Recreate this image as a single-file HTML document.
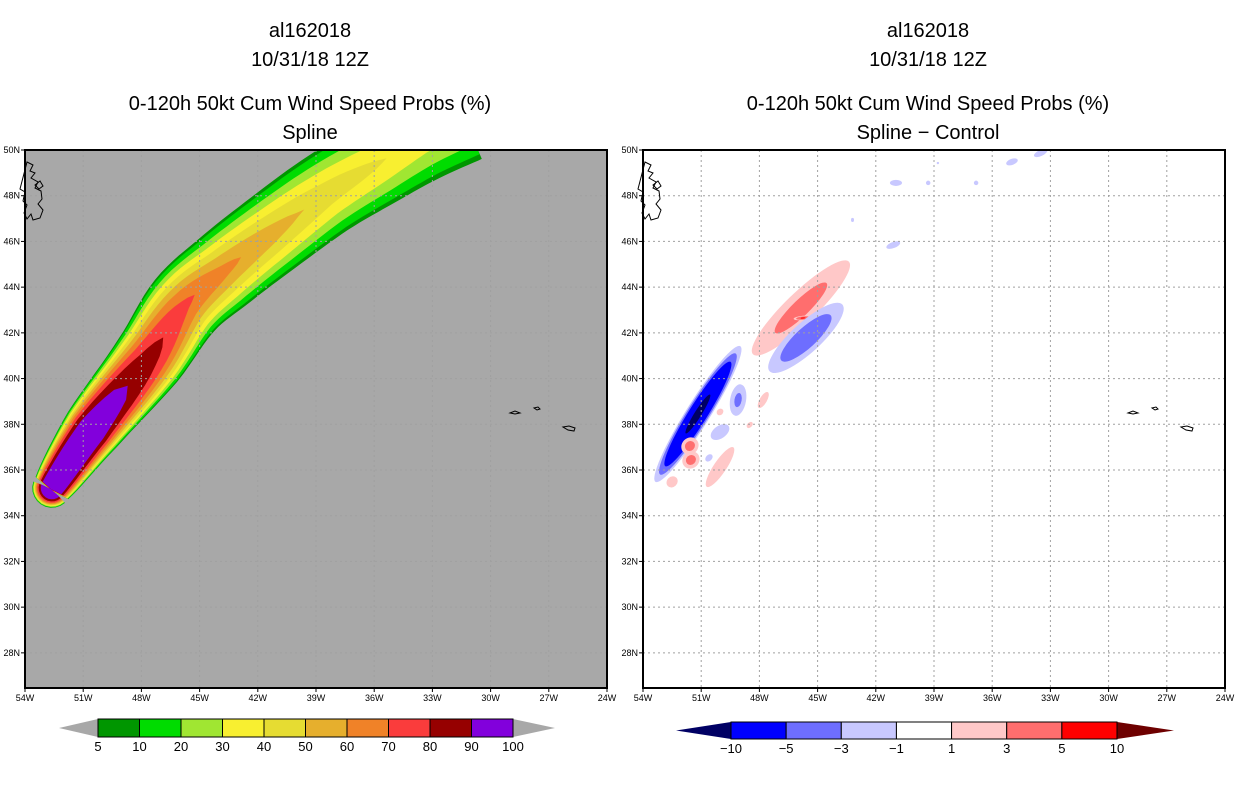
<!DOCTYPE html>
<html><head><meta charset="utf-8">
<style>
body{margin:0;background:#fff;}
svg{display:block;font-family:"Liberation Sans",sans-serif;}
.t{font-size:20px;text-anchor:middle;fill:#000;}
.ax{font-size:9px;fill:#000;}
.cb{font-size:13px;text-anchor:middle;fill:#000;}
</style></head>
<body>
<svg id="s" width="1236" height="800" viewBox="0 0 1236 800">
<defs>
<clipPath id="cl"><rect x="25" y="150" width="582" height="538"/></clipPath>
<clipPath id="cr"><rect x="643" y="150" width="582" height="538"/></clipPath>
</defs>
<g>
<text class="t" x="310" y="37">al162018</text>
<text class="t" x="310" y="66">10/31/18 12Z</text>
<text class="t" x="310" y="110">0-120h 50kt Cum Wind Speed Probs (%)</text>
<text class="t" x="310" y="139">Spline</text>
</g>
<g>
<text class="t" x="928" y="37">al162018</text>
<text class="t" x="928" y="66">10/31/18 12Z</text>
<text class="t" x="928" y="110">0-120h 50kt Cum Wind Speed Probs (%)</text>
<text class="t" x="928" y="139">Spline − Control</text>
</g>
<rect x="25" y="150" width="582" height="538" fill="#a8a8a8"/>
<rect x="643" y="150" width="582" height="538" fill="#fff"/>
<g id="swath" clip-path="url(#cl)"></g>
<g id="diff" clip-path="url(#cr)"></g>
<g id="grid"></g>
<g fill="none" stroke="#000" stroke-width="1">
<path d="M27,162 l6,3 -3,6 5,2 -4,5 7,4 -3,6 6,3 1,8 -4,5 5,6 -3,8 -7,2 -2,-6 -4,5 -3,-6 3,-8 -4,-4 2,-9 -5,-3 z"/>
<path d="M35,185 l5,-4 3,5 -4,3 z"/>
<path d="M645,162 l6,3 -3,6 5,2 -4,5 7,4 -3,6 6,3 1,8 -4,5 5,6 -3,8 -7,2 -2,-6 -4,5 -3,-6 3,-8 -4,-4 2,-9 -5,-3 z"/>
<path d="M653,185 l5,-4 3,5 -4,3 z"/>
<path d="M510,413 l5,-2 5,2 -5,1 z M534,408 l4,-1 2,2 -3,1 z M563,427 l6,-1 6,2 -1,3 -6,-1 z"/>
<path d="M1128,413 l5,-2 5,2 -5,1 z M1152,408 l4,-1 2,2 -3,1 z M1181,427 l6,-1 6,2 -1,3 -6,-1 z"/>
</g>
<rect x="25" y="150" width="582" height="538" fill="none" stroke="#000" stroke-width="2"/>
<rect x="643" y="150" width="582" height="538" fill="none" stroke="#000" stroke-width="2"/>
<g id="axes"></g>
<g id="cbL"></g>
<g id="cbR"></g>
</svg>
<script>
// ---- Left panel data: storm swath centreline and probability profile ----
const trackLon = [-52.61, -50.55, -47.66, -45.75, -43.69, -41.37, -38.54, -35.96, -33.64, -31.32];
const trackLat = [35.21, 37.75, 40.81, 43.22, 44.75, 46.28, 48.03, 49.34, 50.44, 51.31];
const trackPeak = [100, 100, 84, 72, 63, 55, 46, 41, 36, 33];
const trackWidthDeg = [0.95, 1.45, 1.78, 1.95, 2.05, 2.1, 2.15, 2.2, 2.25, 2.25];
const trackShape = [4, 3, 2.2, 1.7, 1.5, 1.5, 1.5, 1.5, 1.5, 1.5];
const probLevels = [5, 10, 20, 30, 40, 50, 60, 70, 80, 90];
const probColors = ["#009600","#00dc00","#a0e632","#f8ef30","#e6dc32","#e6af2d","#f08228","#fa3c3c","#960000","#8200dc"];
const probLabels = ["5","10","20","30","40","50","60","70","80","90","100"];
// ---- Right panel data: difference blobs ----
const blobLon = [-51.17,-45.86,-45.75,-45.6,-49.1,-47.8,-50.03,-50.03,-51.58,-51.53,-52.5,-50.03,-48.5,-50.6,-40.96,-39.3,-36.83,-34.98,-33.5,-41.1,-43.2,-38.8];
const blobLat = [38.45,43.09,42.65,41.78,39.06,39.06,37.66,36.13,37.05,36.44,35.48,38.54,37.97,36.53,48.56,48.56,48.56,49.48,49.87,45.84,46.94,49.43];
const blobVal = [-10.8,3.8,5.3,-4.7,-3.5,1.5,-1.8,1.8,4,4,2,1.5,1.5,-1.5,-1.5,-1.4,-1.4,-1.5,-1.5,-1.5,-1.3,-1.3];
const blobA = [4.0,3.7,0.5,2.65,0.9,0.75,0.75,1.7,0.5,0.5,0.4,0.3,0.3,0.35,0.5,0.2,0.2,0.5,0.6,0.6,0.15,0.12];
const blobB = [0.6,0.85,0.12,0.8,0.45,0.3,0.45,0.45,0.45,0.45,0.35,0.25,0.2,0.25,0.25,0.2,0.2,0.25,0.25,0.25,0.2,0.12];
const blobAng = [-58,-44,-5,-42.5,-80,-60,-35,-56,-45,-45,-45,-45,-45,-45,0,0,0,-20,-25,-20,0,0];
const diffLevels = [1, 3, 5, 10];
const posColors = ["#ffc8c8","#ff6e6e","#ff0000","#6e0000"];
const negColors = ["#c8c8ff","#6e6eff","#0000ff","#000064"];
const diffLabels = ["−10","−5","−3","−1","1","3","5","10"];
const diffBarColors = ["#0000ff","#6e6eff","#c8c8ff","#ffffff","#ffc8c8","#ff6e6e","#ff0000"];
const lonTicks = [-54,-51,-48,-45,-42,-39,-36,-33,-30,-27,-24];
const latTicks = [28,30,32,34,36,38,40,42,44,46,48,50];

const NS="http://www.w3.org/2000/svg";
const PXLON=582/30, PXLAT=(470-150)/14, PXDEG=21;
function xL(lon,off){return off+(lon+54)*PXLON;}
function yL(lat){return 150+(50-lat)*PXLAT;}
function mk(tag,attrs,parent){const e=document.createElementNS(NS,tag);for(const k in attrs)e.setAttribute(k,attrs[k]);parent.appendChild(e);return e;}

// swath: smooth (Catmull-Rom) the centreline and profiles
const sw=document.getElementById('swath');
const P=trackLon.map((l,i)=>[xL(l,25),yL(trackLat[i])]);
const N0=P.length, SUB=8;
const sx=[],sy=[],sp=[],swd=[],ssh=[];
function cr(a,b,c,d,t){return 0.5*((2*b)+(-a+c)*t+(2*a-5*b+4*c-d)*t*t+(-a+3*b-3*c+d)*t*t*t);}
for(let i=0;i<N0-1;i++){
  const i0=Math.max(0,i-1),i3=Math.min(N0-1,i+2);
  for(let s=0;s<SUB;s++){const t=s/SUB;
    sx.push(cr(P[i0][0],P[i][0],P[i+1][0],P[i3][0],t));
    sy.push(cr(P[i0][1],P[i][1],P[i+1][1],P[i3][1],t));
    sp.push(trackPeak[i]+(trackPeak[i+1]-trackPeak[i])*t);
    swd.push(trackWidthDeg[i]+(trackWidthDeg[i+1]-trackWidthDeg[i])*t);
    ssh.push(trackShape[i]+(trackShape[i+1]-trackShape[i])*t);
  }
}
sx.push(P[N0-1][0]);sy.push(P[N0-1][1]);sp.push(trackPeak[N0-1]);swd.push(trackWidthDeg[N0-1]);ssh.push(trackShape[N0-1]);
const n=sx.length;
const nx=[],ny=[];
for(let i=0;i<n;i++){const a=Math.max(0,i-1),b=Math.min(n-1,i+1);const dx=sx[b]-sx[a],dy=sy[b]-sy[a];const L=Math.hypot(dx,dy);nx.push(-dy/L);ny.push(dx/L);}
probLevels.forEach((lev,k)=>{
  const h=sp.map((p,i)=>swd[i]*PXDEG*Math.pow(Math.max(0,1-lev/p),1/ssh[i]));
  const left=[],right=[];
  for(let i=0;i<n;i++){left.push([sx[i]+nx[i]*h[i],sy[i]+ny[i]*h[i]]);right.push([sx[i]-nx[i]*h[i],sy[i]-ny[i]*h[i]]);}
  const cap=[];const a0=Math.atan2(ny[0],nx[0]);
  for(let j=1;j<12;j++){const a=a0+Math.PI*j/12;cap.push([sx[0]+Math.cos(a)*h[0],sy[0]+Math.sin(a)*h[0]]);}
  const pts=left.concat(right.reverse(),cap);
  const e=mk('polygon',{points:pts.map(p=>p[0].toFixed(1)+','+p[1].toFixed(1)).join(' '),fill:probColors[k]},sw);
  
  
});

// diff blobs
const df=document.getElementById('diff');
blobVal.forEach((v,i)=>{
  const cx=xL(blobLon[i],643), cy=yL(blobLat[i]);
  const av=Math.abs(v);
  diffLevels.forEach((lev,k)=>{
    if(av<=lev)return;
    const s=Math.sqrt(1-lev/av);
    const e=mk('ellipse',{cx:cx,cy:cy,rx:blobA[i]*PXDEG*s,ry:blobB[i]*PXDEG*s,fill:v>0?posColors[k]:negColors[k],transform:`rotate(${blobAng[i]} ${cx} ${cy})`},df);
    
    
  });
});

// grid + axes
const g=document.getElementById('grid'), ax=document.getElementById('axes');
[25,643].forEach(off=>{
  lonTicks.forEach(l=>{
    const x=xL(l,off);
    if(l>-54&&l<-24){const e=mk('line',{x1:x,x2:x,y1:150,y2:688,stroke:'#a0a0a0','stroke-dasharray':'2,3','stroke-width':1},g);
    }
    mk('line',{x1:x,x2:x,y1:688,y2:692,stroke:'#000'},ax);
    const t=mk('text',{x:x,y:701,'text-anchor':'middle',class:'ax'},ax);t.textContent=Math.abs(l)+'W';
    
  });
  latTicks.forEach(l=>{
    const y=yL(l);
    if(l<50){const e=mk('line',{x1:off,x2:off+582,y1:y,y2:y,stroke:'#a0a0a0','stroke-dasharray':'2,3','stroke-width':1},g);
    }
    mk('line',{x1:off-4,x2:off,y1:y,y2:y,stroke:'#000'},ax);
    const t=mk('text',{x:off-5,y:y+3,'text-anchor':'end',class:'ax'},ax);t.textContent=l+'N';
    
  });
});

// colorbars
function colorbar(gid,x0,x1,tipL,tipR,y0,y1,cols,labels,lc,rc){
  const gg=document.getElementById(gid);const ym=(y0+y1)/2;
  mk('polygon',{points:`${tipL},${ym} ${x0},${y0} ${x0},${y1}`,fill:lc},gg);
  mk('polygon',{points:`${tipR},${ym} ${x1},${y0} ${x1},${y1}`,fill:rc},gg);
  const w=(x1-x0)/cols.length;
  cols.forEach((c,i)=>{const e=mk('rect',{x:x0+i*w,y:y0,width:w,height:y1-y0,fill:c,stroke:'#000','stroke-width':1},gg);
    });
  labels.forEach((l,i)=>{const t=mk('text',{x:x0+i*w,y:y1+14,class:'cb'},gg);t.textContent=l;
    });
}
colorbar('cbL',98,513,59,555,719,737,probColors,probLabels,'#a8a8a8','#a8a8a8');
colorbar('cbR',731,1117,676,1174,722,739,diffBarColors,diffLabels,'#000064','#6e0000');
</script>
</body></html>
